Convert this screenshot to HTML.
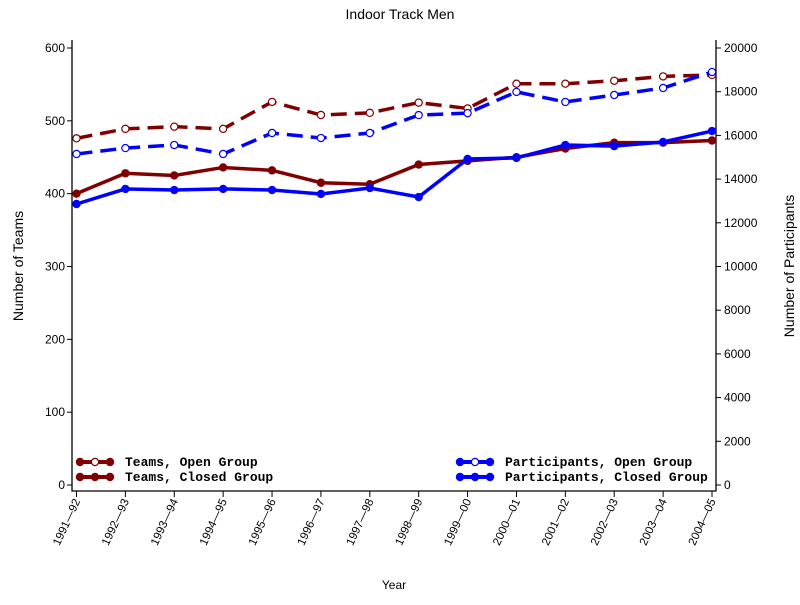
<!DOCTYPE html>
<html><head><meta charset="utf-8"><style>
body{margin:0;background:#fff;width:800px;height:600px;overflow:hidden}
svg text{font-family:"Liberation Sans",sans-serif;fill:#000}
.leg{font-family:"Liberation Mono",monospace;font-size:13px;font-weight:bold}
</style></head><body>
<svg id="chart" width="800" height="600" xmlns="http://www.w3.org/2000/svg"></svg>
<script>
const categories=["1991-92","1992-93","1993-94","1994-95","1995-96","1996-97","1997-98","1998-99","1999-00","2000-01","2001-02","2002-03","2003-04","2004-05"];
const teamsOpen=[476,489,492,489,526,508,511,525,517,551,551,555,561,563];
const teamsClosed=[400,428,425,436,432,415,413,440,445,450,462,470,470,473];
const partOpen=[15150,15420,15560,15150,16110,15880,16110,16930,17020,17990,17530,17850,18170,18900];
const partClosed=[12860,13550,13500,13550,13500,13320,13590,13180,14920,14970,15560,15510,15700,16200];
const leftTicks=[0,100,200,300,400,500,600];
const rightTicks=[0,2000,4000,6000,8000,10000,12000,14000,16000,18000,20000];

const svg=document.getElementById('chart');
const NS="http://www.w3.org/2000/svg";
const X0=72,X1=716,YB=491,Y0=485,Y600=48;
const xs=i=>76.5+i*(712-76.5)/(categories.length-1);
const yl=v=>Y0-(Y0-Y600)*v/600;
const yr=v=>Y0-(Y0-Y600)*v/20000;
function el(t,a,p){const e=document.createElementNS(NS,t);for(const k in a)e.setAttribute(k,a[k]);(p||svg).appendChild(e);return e;}
function txt(s,a){const e=el('text',a);e.textContent=s;return e;}

let t=txt('Indoor Track Men',{x:400,y:19,'text-anchor':'middle','font-size':14});

let ax=el('path',{d:`M${X0},40V${YB}H${X1}V40`,stroke:'#000',fill:'none','stroke-width':1.3});

leftTicks.forEach(v=>{el('line',{x1:X0-5,x2:X0,y1:yl(v),y2:yl(v),stroke:'#000'});
 const e=txt(v,{x:X0-7,y:yl(v)+4,'text-anchor':'end','font-size':12});
 });
rightTicks.forEach(v=>{el('line',{x1:X1,x2:X1+5,y1:yr(v),y2:yr(v),stroke:'#000'});
 const e=txt(v,{x:X1+8,y:yr(v)+4,'font-size':12});
 });
categories.forEach((c,i)=>{el('line',{x1:xs(i),x2:xs(i),y1:YB,y2:YB+6,stroke:'#000'});
 const e=txt(c.replace('-','\u2014'),{x:0,y:0,'text-anchor':'end','font-size':11.5,transform:`translate(${xs(i)+4},${YB+10}) rotate(-65)`});
 });
t=txt('Year',{x:394,y:589,'text-anchor':'middle','font-size':12});
t=txt('Number of Teams',{x:0,y:0,'text-anchor':'middle','font-size':14,transform:'translate(23,266) rotate(-90)'});
t=txt('Number of Participants',{x:0,y:0,'text-anchor':'middle','font-size':14,transform:'translate(794,266) rotate(-90)'});

function series(vals,yf,color,dash,open,name){
 const g=el('g',{});
 el('polyline',{points:vals.map((v,i)=>xs(i)+','+yf(v)).join(' '),fill:'none',stroke:color,'stroke-width':3.5,'stroke-dasharray':dash||'none'},g);
 vals.forEach((v,i)=>{const c=el('circle',{cx:xs(i),cy:yf(v),r:3.6,fill:open?'#fff':color,stroke:color,'stroke-width':1.2},g);
  });
}
series(teamsOpen,yl,'#800000','16,8',true,'teams-open-line');
series(partOpen,yr,'#0000ff','16,8',true,'participants-open-line');
series(teamsClosed,yl,'#800000',null,false,'teams-closed-line');
series(partClosed,yr,'#0000ff',null,false,'participants-closed-line');

function legend(x,y,color,open,label,name){
 const g=el('g',{});
 el('line',{x1:x,x2:x+36,y1:y,y2:y,stroke:color,'stroke-width':4},g);
 [x+3,x+18,x+33].forEach((cx,k)=>el('circle',{cx:cx,cy:y,r:3.6,fill:(open&&k==1)?'#fff':color,stroke:color,'stroke-width':1.2},g));
 const e=txt(label,{x:x+48,y:y+4,class:'leg'});g.appendChild(e);
}
legend(77,462,'#800000',true,'Teams, Open Group','legend-teams-open');
legend(77,477,'#800000',false,'Teams, Closed Group','legend-teams-closed');
legend(457,462,'#0000ff',true,'Participants, Open Group','legend-participants-open');
legend(457,477,'#0000ff',false,'Participants, Closed Group','legend-participants-closed');
</script>
</body></html>
